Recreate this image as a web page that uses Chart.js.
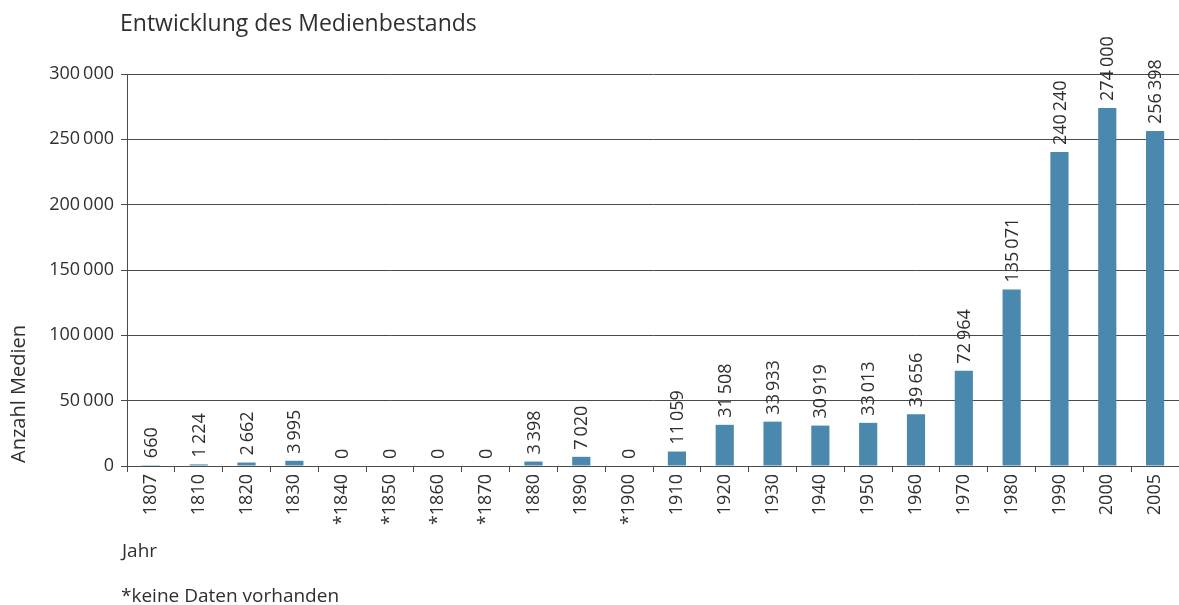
<!DOCTYPE html>
<html lang="de">
<head>
<meta charset="utf-8">
<title>Entwicklung des Medienbestands</title>
<script src="https://cdn.jsdelivr.net/npm/chart.js@4/dist/chart.umd.min.js"></script>
<style>
  html, body { margin: 0; padding: 0; background: #fff; }
  #wrap { position: relative; width: 1179px; height: 605px; }
</style>
</head>
<body>
<div id="wrap"><canvas id="chart" width="1179" height="605"></canvas></div>
<script>
// Daten
const years = ['1807', '1810', '1820', '1830', '*1840', '*1850', '*1860', '*1870', '1880', '1890', '*1900',
    '1910', '1920', '1930', '1940', '1950', '1960', '1970', '1980', '1990', '2000', '2005'];
const media = [660, 1224, 2662, 3995, 0, 0, 0, 0, 3398, 7020, 0,
    11059, 31508, 33933, 30919, 33013, 39656, 72964, 135071, 240240, 274000, 256398];
const yTicks = [0, 50000, 100000, 150000, 200000, 250000, 300000];

const titleText = 'Entwicklung des Medienbestands';
const yTitle = 'Anzahl Medien';
const xTitle = 'Jahr';
const footnote = '*keine Daten vorhanden';

const FONT = '"Open Sans", "Noto Sans", sans-serif';
const TEXT = '#2f2f2f';
const LINE = '#4a4a4a';
const BAR = '#4a88ad';

const fmt = n => String(n).replace(/\B(?=(\d{3})+(?!\d))/g, '\u2009');

// Werte über den Balken, senkrecht
const valueLabels = {
    id: 'valueLabels',
    afterDatasetsDraw(chart) {
        const ctx = chart.ctx;
        const meta = chart.getDatasetMeta(0);
        ctx.save();
        ctx.font = '18px ' + FONT;
        ctx.fillStyle = TEXT;
        ctx.textAlign = 'left';
        ctx.textBaseline = 'middle';
        meta.data.forEach((bar, i) => {
            ctx.save();
            ctx.translate(bar.x + 1, bar.y - 7);
            ctx.rotate(-Math.PI / 2);
            ctx.fillText(fmt(media[i]), 0, 0);
            ctx.restore();
        });
        ctx.restore();
    }
};

// Titel, Achsentitel, Fussnote
const extraText = {
    id: 'extraText',
    afterDraw(chart) {
        const ctx = chart.ctx;
        ctx.save();
        ctx.fillStyle = TEXT;
        ctx.textBaseline = 'alphabetic';
        ctx.textAlign = 'left';
        ctx.font = '23px ' + FONT;
        ctx.fillText(titleText, 120, 31);
        ctx.font = '19px ' + FONT;
        ctx.fillText(xTitle, 122, 557);
        ctx.fillText(footnote, 121, 602);
        ctx.font = '20px ' + FONT;
        ctx.translate(25, 394);
        ctx.rotate(-Math.PI / 2);
        ctx.textAlign = 'center';
        ctx.fillText(yTitle, 0, 0);
        ctx.restore();
    }
};

new Chart(document.getElementById('chart'), {
    type: 'bar',
    data: {
        labels: years,
        datasets: [{
            data: media,
            backgroundColor: BAR,
            borderWidth: 0,
            categoryPercentage: 1,
            barPercentage: 0.38
        }]
    },
    options: {
        responsive: false,
        animation: false,
        layout: { padding: { top: 74, left: 0, right: 0, bottom: 0 } },
        plugins: { legend: { display: false }, tooltip: { enabled: false }, title: { display: false } },
        scales: {
            x: {
                afterFit: s => { s.height = 139; },
                grid: { display: true, drawOnChartArea: false, drawTicks: true, tickLength: 6, color: LINE, offset: true },
                border: { display: true, color: LINE },
                ticks: { color: TEXT, font: { family: FONT, size: 18 }, minRotation: 90, maxRotation: 90, padding: 2, autoSkip: false }
            },
            y: {
                min: 0,
                max: 300000,
                afterFit: s => { s.width = 127; },
                afterBuildTicks: s => { s.ticks = yTicks.map(v => ({ value: v })); },
                grid: { color: LINE, tickLength: 6, lineWidth: 1 },
                border: { display: true, color: LINE },
                ticks: { color: TEXT, font: { family: FONT, size: 18 }, padding: 7, callback: v => fmt(v) }
            }
        }
    },
    plugins: [valueLabels, extraText]
});
</script>
</body>
</html>
